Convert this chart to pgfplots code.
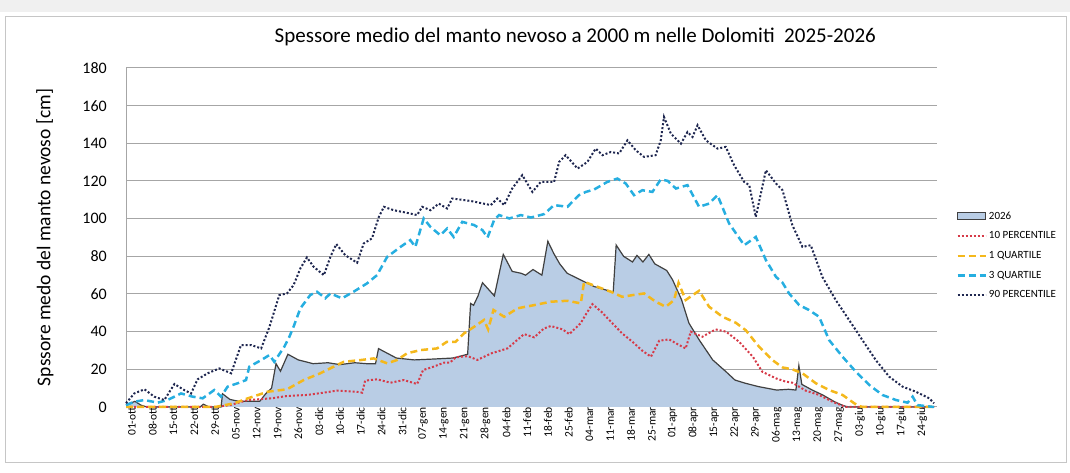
\documentclass[border=0pt]{standalone}
\usepackage{fontspec}
\setmainfont{Carlito}
\usepackage{pgfplots}
\usepackage{pgfplotstable}
\pgfplotsset{compat=1.18}

\definecolor{areaBlue}{HTML}{B9CDE5}
\definecolor{lineGray}{HTML}{404040}
\definecolor{pRed}{HTML}{D63A48}
\definecolor{pYellow}{HTML}{F4B81C}
\definecolor{pCyan}{HTML}{26AEE0}
\definecolor{pNavy}{HTML}{1F2750}
\definecolor{gridGray}{HTML}{A6A6A6}

% day index from 01-ott, depth in cm
\pgfplotstableread{
d v
0 1
3 3
5 1
7 0
25 0
26 1.5
28 0
32 0
32.5 7
35 4
38 3
45 3
47 7
49 10
50.5 23
52 19
54.5 28
58 25
63 23
68 23.5
72 22.5
77 23.5
81 23
84 23
85 31
88 28.5
91 26
97 25
104 25.5
110 26
115 28
116 55
117 54
118.5 59
120 66
124 59
127 81
130 72
133 71
134.5 70
137 73
140 70
142 88
144 81.5
146 76
148.5 71
153 67.5
157.5 64
164 61
165 86
167.5 80
170.5 77
172 80.5
174 77
176 81
178 76
182 72.5
184 67.5
187 57
189.5 44.5
193 35.5
197.5 25
202 18.7
205 14.3
208.5 12.6
213 10.8
219 9
223 9.4
225.5 9
226.5 22
227.5 12
231 9
234.5 6.4
238.5 2.8
241 1
243 0
272 0
}\seasonA

\pgfplotstableread{
d v
0 0
30 0
35 1
41 3.7
49 4.6
54 5.8
61 6.4
66.5 7.6
71 8.7
78 8
79.5 7.6
80.5 14
84.5 14.7
89 12.9
93.5 14.3
98 12.2
100 19.6
103.5 21.4
107 23.5
109 23.5
111 26.4
115 27
118.3 25
123 28.5
128.4 31.1
134 38.7
137.4 37
140.7 41.7
143 43
147 41.2
149.2 38.7
153 44.4
155 49.7
157 54.6
160 50.6
164.3 43.5
167 39.1
170.5 34.6
173.8 29.9
176.7 26.7
179.5 35.2
182.8 35.9
186.2 32.9
188.4 31.1
190.1 40
194 37.3
198.5 41.2
202 40
206.4 34.6
211 26.7
214.2 18.7
218.8 15.2
222 13.5
224.3 12.9
228.8 8.7
233.3 6.4
237.8 2.8
242.3 0
272 0
}\pTen

\pgfplotstableread{
d v
0 0
30 0
36.5 2
41 4.6
47.7 8.1
54.2 9.4
59.8 14.3
65.4 17.9
69.9 21.4
73.3 24
78.9 24.9
83.4 25.8
87.9 23.2
91.2 24.9
94.6 28.5
99.1 30.2
104.7 31.1
108 34.6
110.9 34.6
113.8 39.1
117.2 42.6
120.5 46.2
121.9 41.2
123.7 51.5
127.3 47.9
131.8 52.4
137.4 54.1
143 55.9
148.6 56.4
153.1 55
154.2 66.5
158.7 63.8
163.2 61.2
167 58.5
170.5 59.4
174.4 60.3
178.3 55.9
181.7 53.2
184.5 56.8
186 65.9
188.4 56.8
192.9 61.7
196.3 53.2
200.8 47.9
205.3 44.7
208.6 40.8
213.1 32
217.6 24.9
221 21
224.3 20
227.7 17.9
232.2 12.6
236.7 9
241.2 6.4
245.1 2
246.8 0.5
248 0
272 0
}\qOne

\pgfplotstableread{
d v
0 1
2.8 2.8
6.2 3.7
10.7 2.3
14 3.7
18.5 7.2
22.4 5.5
25.8 4.6
29.7 9
32 5.5
34.2 10.8
37.6 12.6
40.4 14.3
41.5 21.4
45.5 24.9
48.3 27.6
49.9 24
53.3 32
55 37.3
56.4 42.6
58.7 52.4
62 59.4
64.3 61.2
67.1 57.7
68.8 60.3
72.7 57.7
76.6 61.2
81.1 65.6
84.5 70
87.9 79.7
92.4 85
95.7 88.6
97.4 85
100.2 100.1
102.5 95.6
105.8 91.2
108.1 94.8
110.3 90.3
113.2 98.3
117.2 96.6
120 93.9
121.7 90
123.9 99.2
125.6 101.9
129 100.1
132.9 101.9
136.3 100.6
140.7 102.4
144.1 107.2
148.6 106.3
152.5 112.5
154.8 114.2
157.6 115.5
162 119.5
165.4 121.3
168.2 118.7
171 112.5
173.8 115.1
177.2 114.2
180 120.8
182.3 120.1
185.1 116
189 117.8
192.9 106.3
196.3 108
199.1 112.5
203 97.5
208.1 85.9
212 90.3
215.4 78
218.8 69.1
221 66
223.2 60.3
226.6 54.1
229.9 51.5
233.3 47.9
236.7 35.5
241.2 26.7
245.7 18.7
250.2 11.7
254.6 6.4
259.2 3.7
263.1 2.3
264.8 5.5
266.4 1
269.2 0.5
272 0
}\qThree

\pgfplotstableread{
d v
0 2
2.8 7.2
6.2 9.4
9.5 5.5
12.9 3.7
16.3 12.2
19.6 9
21.9 7.2
24.1 14.7
27.5 17.9
31.4 20.5
35.4 17.9
38.7 32.9
42.1 32.9
45.5 31.1
48.3 42.6
51.6 59.4
54.2 60.3
56.4 64.7
58.7 73.6
60.9 79.4
63.2 74.4
66.6 70
68.8 79.7
70.8 86.5
73.8 80.6
77.8 76.6
80 86.8
82.8 89.5
85.1 100.9
86.8 106.3
90.1 104.5
94.6 103.1
98 101.9
99.7 106.3
102.5 104.5
105.3 108
108.1 105.4
109.8 110.7
116 109.4
122.8 107.2
125 110.7
127.3 107.2
130 116
133.4 123.1
136.8 114.2
139.6 119.5
144.1 119.5
145.8 130.1
148 133.7
152 126.6
155.3 130.1
158.1 137.2
160.4 133.7
163.2 135.4
166 134.6
168.8 141.6
171.6 136.3
174.4 132.8
178.3 133.7
180 141.6
181.1 154
183.4 145.2
186.8 139.8
189 146
190.7 143.4
192.4 149.6
195.2 141.6
199.1 137.2
201.9 138.1
204.7 128.4
208.1 119.5
209.8 117.8
212 100.9
215.4 125.7
218.8 118.7
221 115.1
224.3 96.6
227.7 85
230.5 85.9
234.4 69.1
238.9 56.8
243.4 46.2
247.9 35.5
252.4 24.9
256.9 16.1
261.4 10.8
265.9 8.1
270.4 4.6
272 2
}\pNinety

\begin{document}
\begin{tikzpicture}[x=1pt,y=1pt]
\fill[gray!12] (0,461) rectangle (1070,473);
\draw[gray!45, line width=1pt] (5,10) rectangle (1066,456);
\path[use as bounding box] (0,0) rectangle (1070,473);
\begin{axis}[
    at={(126pt,66pt)}, anchor=south west,
    scale only axis, width=811pt, height=339pt,
    xmin=0, xmax=273, ymin=0, ymax=180,
    clip=false,
    axis x line*=bottom, axis y line*=left,
    axis line style={draw=gridGray, line width=1pt, -},
    major tick length=0pt,
    ytick={0,20,...,180},
    ymajorgrids,
    grid style={draw=gridGray, line width=1pt},
    xtick={0,7,...,266},
    xticklabels={01-ott,08-ott,15-ott,22-ott,29-ott,05-nov,12-nov,19-nov,26-nov,03-dic,10-dic,17-dic,24-dic,31-dic,07-gen,14-gen,21-gen,28-gen,04-feb,11-feb,18-feb,25-feb,04-mar,11-mar,18-mar,25-mar,01-apr,08-apr,15-apr,22-apr,29-apr,06-mag,13-mag,20-mag,27-mag,03-giu,10-giu,17-giu,24-giu},
    xticklabel style={rotate=90, anchor=east, inner sep=0pt, yshift=-6pt, font=\fontsize{11.5}{13}\selectfont},
    yticklabel style={anchor=east, inner sep=0pt, xshift=-19pt, font=\fontsize{16}{18}\selectfont},
    /pgf/number format/assume math mode=true,
    title={Spessore medio del manto nevoso a 2000 m nelle Dolomiti\ \ 2025-2026},
    title style={at={(axis description cs:0.554,1.075)}, anchor=center, font=\fontsize{21}{24}\selectfont},
    ylabel={Spssore medo del manto nevoso [cm]},
    every axis y label/.style={at={(axis description cs:-0.1,0.5)}, rotate=90, anchor=center, font=\fontsize{19.5}{22}\selectfont},
    legend cell align=left,
    legend style={at={(1.02,0.588)}, anchor=north west, draw=none, fill=none,
        font=\fontsize{11}{12}\selectfont, row sep=7pt},
    legend image code/.code={\draw[#1] (0pt,0pt) -- (28pt,0pt);},
]
\addplot[fill=areaBlue, draw=none,
    legend image code/.code={\draw[fill=areaBlue, draw=lineGray, line width=0.8pt] (0pt,-3.5pt) rectangle (28pt,3.5pt);}]
    table[x=d, y=v] {\seasonA} \closedcycle;
\addlegendentry{2026}
\addplot[lineGray, line width=1.2pt, forget plot] table[x=d, y=v] {\seasonA};
\addplot[pRed, line width=2pt, dash pattern=on 2pt off 2pt] table[x=d, y=v] {\pTen};
\addlegendentry{10 PERCENTILE}
\addplot[pYellow, line width=2.5pt, dash pattern=on 7pt off 4pt] table[x=d, y=v] {\qOne};
\addlegendentry{1 QUARTILE}
\addplot[pCyan, line width=2.5pt, dash pattern=on 7pt off 4pt] table[x=d, y=v] {\qThree};
\addlegendentry{3 QUARTILE}
\addplot[pNavy, line width=2pt, dash pattern=on 2pt off 2pt] table[x=d, y=v] {\pNinety};
\addlegendentry{90 PERCENTILE}
\end{axis}
\end{tikzpicture}
\end{document}
